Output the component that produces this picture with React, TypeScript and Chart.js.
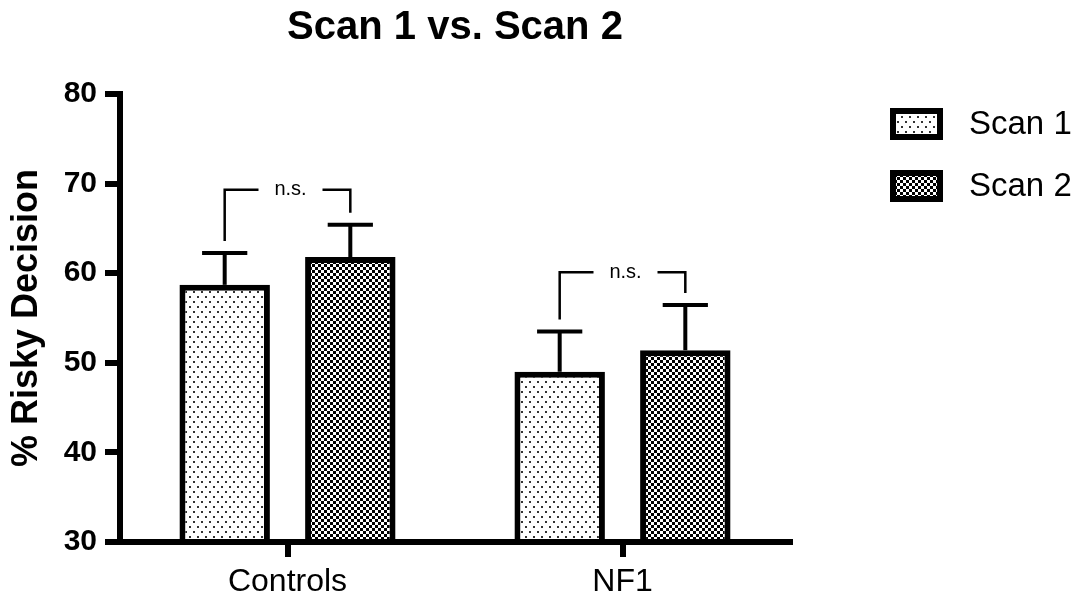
import React, { useEffect, useRef } from 'react';
import { Chart, registerables } from 'chart.js';

Chart.register(...registerables);

const CATEGORIES = ['Controls', 'NF1'];
const SERIES_NAMES = ['Scan 1', 'Scan 2'];
const SCAN1_MEANS = [58.7, 49.0];
const SCAN2_MEANS = [61.8, 51.4];
const SCAN1_ERRORS = [3.55, 4.5];
const SCAN2_ERRORS = [3.6, 5.05];
const BRACKET_LEVELS = [69.3, 60.1];
const BRACKET_LABELS = ['n.s.', 'n.s.'];
const Y_MIN = 30;
const Y_MAX = 80;
const Y_STEP = 10;
const TITLE = 'Scan 1 vs. Scan 2';
const Y_TITLE = '% Risky Decision';

const FONT = "'Liberation Sans', Arial, Helvetica, sans-serif";

function makeDotPattern(ctx: CanvasRenderingContext2D) {
  const c = document.createElement('canvas');
  c.width = 8;
  c.height = 10;
  const g = c.getContext('2d')!;
  g.fillStyle = '#fff';
  g.fillRect(0, 0, 8, 10);
  g.fillStyle = '#333';
  g.fillRect(1, 1, 2, 2);
  g.fillRect(5, 6, 2, 2);
  return ctx.createPattern(c, 'repeat')!;
}

function makeCheckPattern(ctx: CanvasRenderingContext2D) {
  const c = document.createElement('canvas');
  c.width = 6;
  c.height = 6;
  const g = c.getContext('2d')!;
  g.fillStyle = '#fff';
  g.fillRect(0, 0, 6, 6);
  g.fillStyle = '#000';
  g.fillRect(0, 0, 3, 3);
  g.fillRect(3, 3, 3, 3);
  return ctx.createPattern(c, 'repeat')!;
}

export default function App() {
  const canvasRef = useRef<HTMLCanvasElement | null>(null);

  useEffect(() => {
    const canvas = canvasRef.current;
    if (!canvas) return;
    const ctx = canvas.getContext('2d')!;
    Chart.defaults.font.family = FONT;
    Chart.defaults.color = '#000';

    const patterns = [makeDotPattern(ctx), makeCheckPattern(ctx)];
    const means = [SCAN1_MEANS, SCAN2_MEANS];
    const errors = [SCAN1_ERRORS, SCAN2_ERRORS];

    const annotPlugin = {
      id: 'annot',
      afterDatasetsDraw(chart: any) {
        const c = chart.ctx as CanvasRenderingContext2D;
        const y = chart.scales.y;
        c.save();
        c.strokeStyle = '#000';
        c.lineCap = 'butt';
        // error bars
        for (let d = 0; d < 2; d++) {
          const meta = chart.getDatasetMeta(d);
          meta.data.forEach((bar: any, i: number) => {
            const x = bar.x;
            const yTop = y.getPixelForValue(means[d][i]);
            const yErr = y.getPixelForValue(means[d][i] + errors[d][i]);
            const half = bar.width * 0.25;
            c.lineWidth = 4;
            c.beginPath();
            c.moveTo(x, yTop);
            c.lineTo(x, yErr);
            c.stroke();
            c.beginPath();
            c.moveTo(x - half, yErr);
            c.lineTo(x + half, yErr);
            c.stroke();
          });
        }
        // brackets
        const m0 = chart.getDatasetMeta(0);
        const m1 = chart.getDatasetMeta(1);
        c.lineWidth = 2.5;
        c.lineJoin = 'miter';
        CATEGORIES.forEach((_, i) => {
          const x1 = m0.data[i].x;
          const x2 = m1.data[i].x;
          const yb = y.getPixelForValue(BRACKET_LEVELS[i]);
          const l1 = y.getPixelForValue(SCAN1_MEANS[i] + SCAN1_ERRORS[i]) - 12;
          const l2 = y.getPixelForValue(SCAN2_MEANS[i] + SCAN2_ERRORS[i]) - 12;
          const mid = (x1 + x2) / 2;
          c.beginPath();
          c.moveTo(x1, l1);
          c.lineTo(x1, yb);
          c.lineTo(mid - 29, yb);
          c.moveTo(mid + 35, yb);
          c.lineTo(x2, yb);
          c.lineTo(x2, l2);
          c.stroke();
          c.fillStyle = '#000';
          c.font = `20px ${FONT}`;
          c.textAlign = 'center';
          c.textBaseline = 'middle';
          c.fillText(BRACKET_LABELS[i], mid + 3, yb);
        });
        c.restore();
      },
      afterDraw(chart: any) {
        const c = chart.ctx as CanvasRenderingContext2D;
        c.save();
        const left = 890;
        const w = 53;
        const h = 32;
        const centers = [124, 186];
        SERIES_NAMES.forEach((name, i) => {
          const top = centers[i] - h / 2;
          c.fillStyle = '#000';
          c.fillRect(left, top, w, h);
          c.fillStyle = patterns[i];
          c.fillRect(left + 6, top + 6, w - 12, h - 12);
          c.fillStyle = '#000';
          c.font = `33px ${FONT}`;
          c.textAlign = 'left';
          c.textBaseline = 'middle';
          c.fillText(name, 969, centers[i] + 1);
        });
        c.restore();
      },
    };

    const chart = new Chart(ctx, {
      type: 'bar',
      data: {
        labels: CATEGORIES,
        datasets: SERIES_NAMES.map((name, d) => ({
          label: name,
          data: means[d],
          backgroundColor: patterns[d],
          borderColor: '#000',
          borderWidth: 6,
          borderSkipped: 'start',
          base: Y_MIN,
          categoryPercentage: 0.75,
          barPercentage: 0.72,
        })) as any,
      },
      options: {
        animation: false,
        responsive: false,
        layout: { padding: { left: 0, right: 294, top: 0, bottom: 0 } },
        plugins: {
          legend: { display: false },
          tooltip: { enabled: false },
          title: {
            display: true,
            text: TITLE,
            fullSize: false,
            color: '#000',
            font: { size: 40, weight: 'bold', family: FONT },
            padding: { top: 4, bottom: 42 },
          },
        },
        scales: {
          x: {
            offset: true,
            grid: {
              offset: false,
              drawOnChartArea: false,
              drawTicks: true,
              tickLength: 15,
              lineWidth: 6,
              tickWidth: 6,
              tickColor: '#000',
              color: '#000',
            },
            border: { display: true, width: 6, color: '#000' },
            ticks: { font: { size: 32, family: FONT }, color: '#000', padding: 6 },
            afterFit: (s: any) => {
              s.height = 61;
            },
          },
          y: {
            min: Y_MIN,
            max: Y_MAX,
            ticks: {
              stepSize: Y_STEP,
              font: { size: 30, weight: 'bold', family: FONT },
              color: '#000',
              padding: 8,
            },
            grid: {
              drawOnChartArea: false,
              drawTicks: true,
              tickLength: 15,
              lineWidth: 6,
              tickWidth: 6,
              tickColor: '#000',
              color: '#000',
            },
            border: { display: true, width: 6, color: '#000' },
            title: {
              display: true,
              text: Y_TITLE,
              color: '#000',
              font: { size: 36, weight: 'bold', family: FONT },
              padding: { top: 5, bottom: 0 },
            },
            afterFit: (s: any) => {
              s.width = 120;
            },
          },
        },
      } as any,
      plugins: [annotPlugin],
    });

    return () => chart.destroy();
  }, []);

  return (
    <div style={{ position: 'fixed', left: 0, top: 0, width: 1084, height: 603, background: '#fff' }}>
      <canvas ref={canvasRef} width={1084} height={603} style={{ display: 'block' }} />
    </div>
  );
}
